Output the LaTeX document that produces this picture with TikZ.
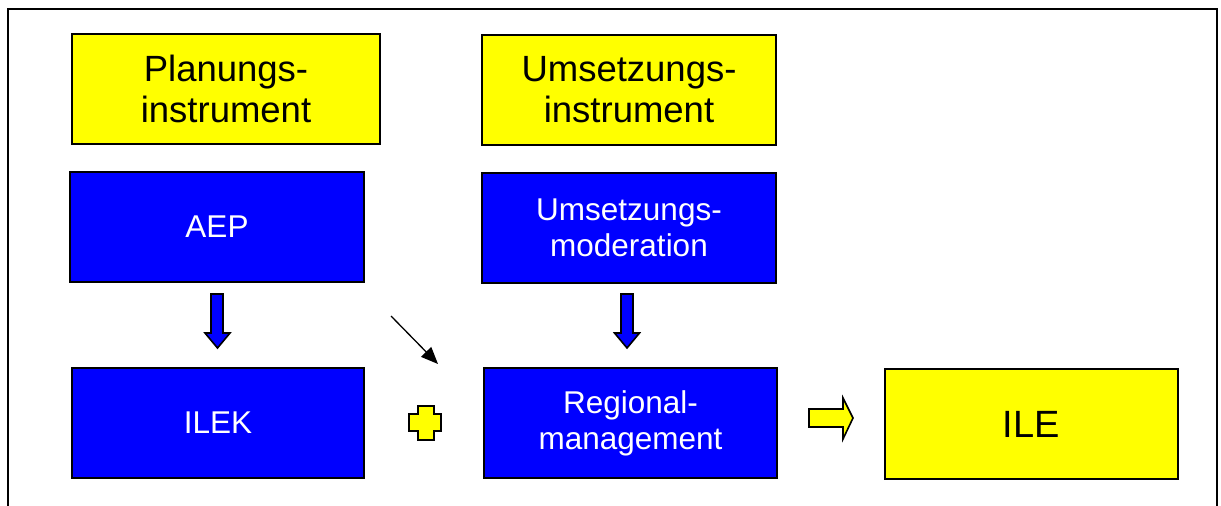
\documentclass[tikz,border=0pt]{standalone}
\usepackage{fontspec}
\setmainfont{Liberation Sans}
\usetikzlibrary{arrows.meta}
\definecolor{boxyellow}{RGB}{255,255,0}
\definecolor{boxblue}{RGB}{0,0,255}
\tikzset{
  ybox/.style={draw=black, line width=1.5pt, fill=boxyellow, text=black, inner sep=0pt, align=center, font=\fontsize{36.5}{41}\selectfont},
  bbox/.style={draw=black, line width=1.5pt, fill=boxblue, text=white, inner sep=0pt, align=center, font=\fontsize{31.5}{36}\selectfont},
  blockarrow/.style={draw=black, line width=1.6pt, line join=miter},
  thinarrow/.style={line width=1.3pt, -{Triangle[length=17pt,width=14pt]}},
  frameline/.style={line width=2pt}
}
\begin{document}
\begin{tikzpicture}[x=1pt,y=-1pt]
\useasboundingbox (0,0) rectangle (1221,506);
% open frame
\draw[frameline] (8,506) -- (8,9) -- (1217,9) -- (1217,506);
% boxes
\node[ybox, minimum width=308pt, minimum height=110pt] (plan) at (226,89) {Planungs-\\instrument};
\node[ybox, minimum width=294pt, minimum height=110pt] (ums) at (629,90) {Umsetzungs-\\instrument};
\node[bbox, minimum width=294pt, minimum height=110pt] (aep) at (217,227) {AEP};
\node[bbox, minimum width=294pt, minimum height=110pt] (mod) at (629,228) {Umsetzungs-\\moderation};
\node[bbox, minimum width=292pt, minimum height=110pt] (ilek) at (218,423) {ILEK};
\node[bbox, minimum width=293pt, minimum height=110pt] (reg) at (630.5,423) {Regional-\\management};
\node[ybox, minimum width=293pt, minimum height=110pt, font=\fontsize{38}{44}\selectfont] (ile) at (1031.5,424) {ILE};
% blue down arrows
\draw[blockarrow, fill=boxblue] (211,294) -- (223,294) -- (223,333) -- (230,333) -- (217.5,348) -- (205,333) -- (211,333) -- cycle;
\draw[blockarrow, fill=boxblue] (621,294) -- (633,294) -- (633,333) -- (639.5,333) -- (627,348) -- (614.5,333) -- (621,333) -- cycle;
% plus sign
\draw[blockarrow, fill=boxyellow] (418,406) -- (434,406) -- (434,414) -- (441,414) -- (441,431) -- (434,431) -- (434,440) -- (418,440) -- (418,431) -- (409,431) -- (409,414) -- (418,414) -- cycle;
% yellow right arrow
\draw[blockarrow, fill=boxyellow] (809,409) -- (843,409) -- (843,398) -- (853,418) -- (843,439) -- (843,427) -- (809,427) -- cycle;
% thin diagonal arrow
\coordinate (ta) at (391,316);
\coordinate (tb) at (438,364);
\draw[thinarrow] (ta) -- (tb);
\end{tikzpicture}
\end{document}
